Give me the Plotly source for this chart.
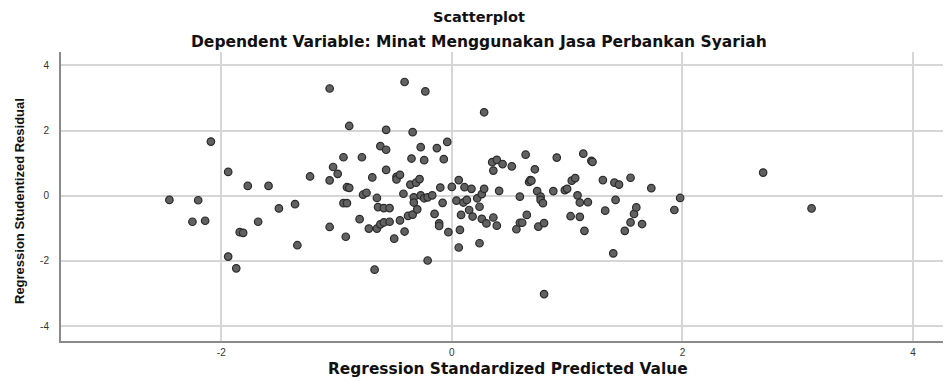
import plotly.graph_objects as go

# Regression Standardized Predicted Value
pred = [-2.45, -2.20, -2.25, -2.14, -2.09, -1.94, -1.77, -1.59, -1.84, -1.81,
        -1.94, -1.87, -1.68, -1.50, -1.36, -1.34, -1.23, -1.06, -1.06, -1.06,
        -1.03, -0.99, -0.94, -0.92, -0.91, -0.89, -0.94, -0.91, -0.89, -0.80,
        -0.78, -0.77, -0.74, -0.72, -0.69, -0.67, -0.65, -0.65, -0.64, -0.62,
        -0.62, -0.59, -0.59, -0.57, -0.57, -0.57, -0.54, -0.54, -0.50, -0.48,
        -0.48, -0.45, -0.45, -0.42, -0.41, -0.41, -0.38, -0.36, -0.35, -0.34,
        -0.34, -0.33, -0.33, -0.31, -0.30, -0.28, -0.27, -0.27, -0.24, -0.24,
        -0.23, -0.21, -0.21, -0.17, -0.15, -0.13, -0.11, -0.11, -0.10, -0.08,
        -0.07, -0.04, -0.03, 0.00, 0.04, 0.06, 0.06, 0.07, 0.08, 0.10,
        0.11, 0.13, 0.15, 0.17, 0.18, 0.22, 0.24, 0.24, 0.26, 0.26,
        0.28, 0.28, 0.30, 0.35, 0.36, 0.36, 0.39, 0.39, 0.41, 0.44,
        0.52, 0.56, 0.59, 0.59, 0.61, 0.64, 0.65, 0.67, 0.68, 0.69,
        0.72, 0.74, 0.75, 0.77, 0.77, 0.79, 0.80, 0.80, 0.88, 0.91,
        0.98, 1.00, 1.03, 1.04, 1.07, 1.09, 1.11, 1.11, 1.14, 1.15,
        1.18, 1.21, 1.22, 1.31, 1.33, 1.40, 1.41, 1.42, 1.45, 1.50,
        1.55, 1.55, 1.58, 1.60, 1.65, 1.73, 1.93, 1.98, 2.70, 3.12]

# Regression Studentized Residual
resid = [-0.13, -0.14, -0.80, -0.77, 1.66, 0.73, 0.30, 0.30, -1.12, -1.14,
         -1.87, -2.23, -0.80, -0.39, -0.26, -1.52, 0.59, 3.29, 0.47, -0.96,
         0.88, 0.67, 1.18, -1.26, 0.26, 0.24, -0.23, -0.23, 2.14, -0.72,
         1.18, 0.03, 0.09, -1.01, 0.56, -2.27, -0.07, -1.01, -0.35, 1.52,
         -0.88, -0.38, -0.82, 2.02, 1.41, 0.79, -0.38, -0.80, -1.32, 0.58,
         0.50, 0.64, -0.76, 0.06, 3.49, -1.10, -0.62, 0.34, 1.14, 1.95,
         -0.58, -0.05, -0.21, 0.40, -0.42, 0.51, 1.49, 0.01, 1.09, -0.08,
         3.20, -0.05, -1.99, 0.01, -0.56, 1.46, -0.85, -0.93, 0.25, -0.22,
         1.12, 1.65, -1.12, 0.27, -0.15, 0.48, -1.59, -1.05, -0.59, -0.21,
         0.26, -0.13, -0.44, 0.21, -0.64, -0.08, -0.34, -1.46, 0.05, -0.71,
         2.56, 0.21, -0.85, 1.03, 0.77, -0.67, 1.10, -0.92, 0.15, 0.97,
         0.90, -1.03, -0.03, -0.83, -0.83, 1.26, -0.59, 0.42, 0.48, 0.46,
         0.81, 0.14, -0.95, -0.03, -0.13, -0.23, -0.84, -3.02, 0.14, 1.17,
         0.17, 0.21, -0.63, 0.46, 0.54, 0.01, -0.21, -0.65, 1.29, -1.08,
         -0.20, 1.07, 1.04, 0.48, -0.46, -1.77, 0.40, -0.13, 0.34, -1.08,
         0.55, -0.82, -0.56, -0.36, -0.87, 0.23, -0.44, -0.07, 0.71, -0.39]

x_ticks = [-2, 0, 2, 4]
y_ticks = [-4, -2, 0, 2, 4]

title_text = "Scatterplot"
subtitle_text = "Dependent Variable: Minat Menggunakan Jasa Perbankan Syariah"
x_title = "Regression Standardized Predicted Value"
y_title = "Regression Studentized Residual"

FONT = "Liberation Sans, Arial, sans-serif"
WIDE = "DejaVu Sans, Verdana, sans-serif"

fig = go.Figure()
fig.add_trace(go.Scatter(
    x=pred, y=resid, mode="markers",
    marker=dict(size=7.5, color="#616161", line=dict(color="#2b2b2b", width=1.2)),
    hoverinfo="x+y", showlegend=False,
))

# plot area in pixels: left 61, right 943, top 52, bottom 341
L, R, T, B = 61, 943, 52, 341
W, H = R - L, B - T

def px(xp):
    return (xp - L) / W

def py(yp):
    return (B - yp) / H

fig.update_layout(
    width=946, height=381,
    margin=dict(l=L, r=946 - R, t=T, b=381 - B, autoexpand=False),
    paper_bgcolor="white", plot_bgcolor="white",
    font=dict(family=FONT, color="#222222"),
    xaxis=dict(range=[-3.39, 4.26], tickvals=x_ticks, ticktext=[str(v) for v in x_ticks],
               showgrid=True, gridcolor="#d6d6d6", gridwidth=1.5, zeroline=False,
               showline=True, linecolor="#8a8a8a", linewidth=2, mirror=False,
               ticks="", tickfont=dict(size=10, color="#333333"), ticklabelstandoff=1),
    yaxis=dict(range=[-4.46, 4.41], tickvals=y_ticks, ticktext=[str(v) for v in y_ticks],
               showgrid=True, gridcolor="#d6d6d6", gridwidth=1.5, zeroline=False,
               showline=True, linecolor="#8a8a8a", linewidth=2, mirror=False,
               ticks="", tickfont=dict(size=10, color="#333333"), ticklabelstandoff=8),
    annotations=[
        dict(text="<b>" + title_text + "</b>", x=px(479), y=py(17), xref="paper", yref="paper",
             showarrow=False, xanchor="center", yanchor="middle", font=dict(size=14.5, family=WIDE, color="#111111")),
        dict(text="<b>" + subtitle_text + "</b>", x=px(479), y=py(42), xref="paper", yref="paper",
             showarrow=False, xanchor="center", yanchor="middle", font=dict(size=15.5, family=WIDE, color="#111111")),
        dict(text="<b>" + x_title + "</b>", x=px(508), y=py(369), xref="paper", yref="paper",
             showarrow=False, xanchor="center", yanchor="middle", font=dict(size=15.4, family=WIDE, color="#111111")),
        dict(text="<b>" + y_title + "</b>", x=px(19), y=py(201), xref="paper", yref="paper",
             showarrow=False, xanchor="center", yanchor="middle", textangle=-90,
             font=dict(size=13, family=FONT, color="#111111")),
    ],
)

fig.write_html("out.html", config={"displayModeBar": False},
               post_script="document.body.style.margin='0px';")
